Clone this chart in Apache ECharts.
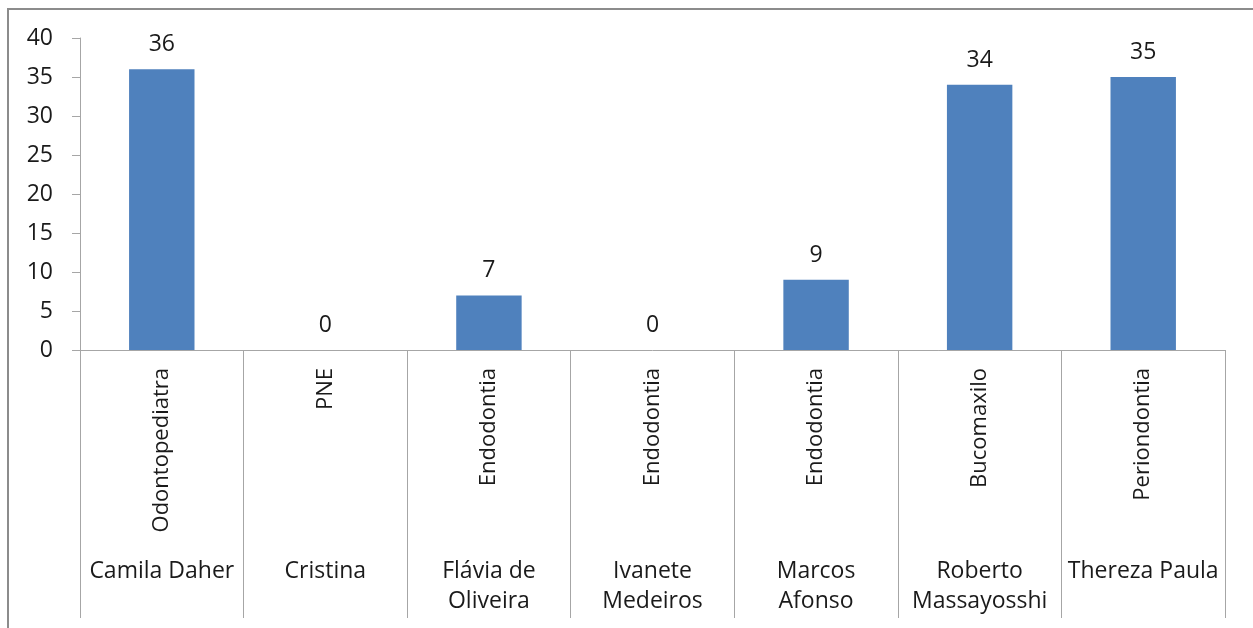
<!DOCTYPE html>
<html>
<head>
<meta charset="utf-8">
<script src="https://cdn.jsdelivr.net/npm/echarts@6/dist/echarts.min.js"></script>
<style>
  html, body { margin: 0; padding: 0; background: #fff; }
  #chart { width: 1253px; height: 628px; }
</style>
</head>
<body>
<div id="chart"></div>
<script>
// dados do gráfico
const names = ['Camila Daher', 'Cristina', 'Flávia de\nOliveira', 'Ivanete\nMedeiros', 'Marcos\nAfonso', 'Roberto\nMassayosshi', 'Thereza Paula']
const specialties = ['Odontopediatra', 'PNE', 'Endodontia', 'Endodontia', 'Endodontia', 'Bucomaxilo', 'Periondontia']
const values = [36, 0, 7, 0, 9, 34, 35]

const font = 'Open Sans'
const gray = '#a6a6a6'

const myChart = echarts.init(document.getElementById('chart'))

const option = {
  animation: false,
  backgroundColor: '#fff',
  textStyle: { fontFamily: font },
  graphic: [
    {
      type: 'rect',
      shape: { x: 8, y: 9, width: 1400, height: 800 },
      style: { fill: 'none', stroke: '#8c8c8c', lineWidth: 2 }
    }
  ],
  grid: {
    left: 80,
    right: 28,
    top: 38,
    bottom: 278,
    containLabel: false
  },
  xAxis: [
    {
      type: 'category',
      data: names,
      axisLine: { lineStyle: { color: gray, width: 1 } },
      axisTick: { show: true, length: 268, lineStyle: { color: gray } },
      axisLabel: {
        rotate: 90,
        margin: 18,
        fontSize: 22,
        color: '#1a1a1a',
        fontFamily: font,
        formatter: (value, index) => specialties[index]
      }
    },
    {
      type: 'category',
      position: 'bottom',
      data: names,
      offset: 206,
      axisLine: { show: false },
      axisTick: { show: false },
      axisLabel: {
        margin: 0,
        fontSize: 23,
        lineHeight: 30,
        verticalAlign: 'top',
        color: '#1a1a1a',
        fontFamily: font,
        interval: 0
      }
    }
  ],
  yAxis: {
    type: 'value',
    min: 0,
    max: 40,
    interval: 5,
    axisLine: { show: true, lineStyle: { color: gray } },
    axisTick: { show: true, length: 8, lineStyle: { color: gray } },
    splitLine: { show: false },
    axisLabel: {
      margin: 27,
      fontSize: 23,
      color: '#1a1a1a',
      fontFamily: font
    }
  },
  series: [
    {
      type: 'bar',
      data: values,
      barWidth: '40%',
      itemStyle: { color: '#4f81bd' },
      label: {
        show: true,
        position: 'top',
        distance: 13,
        fontSize: 23,
        color: '#1a1a1a',
        fontFamily: font
      }
    }
  ]
}

myChart.setOption(option)
</script>
</body>
</html>
